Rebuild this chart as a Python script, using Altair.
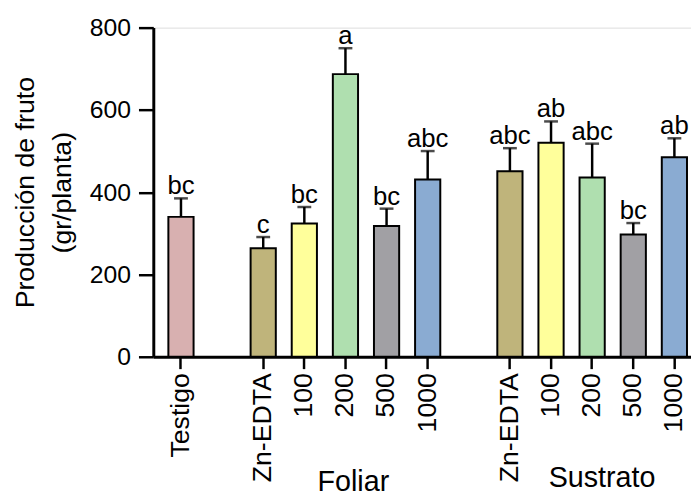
import altair as alt
import pandas as pd

# ---- data ----
groups = ["Testigo", "Foliar", "Foliar", "Foliar", "Foliar", "Foliar",
          "Sustrato", "Sustrato", "Sustrato", "Sustrato", "Sustrato"]
labels = ["Testigo", "Zn-EDTA", "100", "200", "500", "1000",
          "Zn-EDTA", "100", "200", "500", "1000"]
means = [340, 264, 324, 687, 318, 431, 451, 520, 436, 297, 485]
sds = [45, 27, 40, 63, 42, 69, 56, 52, 82, 28, 46]
letters = ["bc", "c", "bc", "a", "bc", "abc", "abc", "ab", "abc", "bc", "ab"]
colors = ["#D8B0B0", "#BFB47B", "#FFFF9B", "#AFDFAF", "#A1A0A4", "#8AABD2",
          "#BFB47B", "#FFFF9B", "#AFDFAF", "#A1A0A4", "#8AABD2"]
group_titles = ["Foliar", "Sustrato"]
y_ticks = [0, 200, 400, 600, 800]

keys = [g + ":" + l for g, l in zip(groups, labels)]
domain = [keys[0], "gap1"] + keys[1:6] + ["gap2"] + keys[6:]

df = pd.DataFrame({
    "key": keys, "label": labels, "mean": means, "sd": sds,
    "letter": letters, "color": colors,
})
df["upper"] = df["mean"] + df["sd"]

FONT = "Liberation Sans"

xscale = alt.Scale(domain=domain, paddingInner=0.387, paddingOuter=0.232, align=0.79)
yscale = alt.Scale(domain=[0, 800], nice=False)

xaxis = alt.Axis(
    title=None, values=keys, labelAngle=270, labelFontSize=27, labelFont=FONT,
    labelColor="black", labelPadding=4, tickSize=12, tickWidth=2.5,
    tickColor="black", domainColor="black", domainWidth=3,
    labelExpr="indexof(datum.label, ':') >= 0 ? substring(datum.label, indexof(datum.label, ':') + 1) : ''",
    grid=False,
)
yaxis = alt.Axis(
    title=["Producción de fruto", "(gr/planta)"], values=y_ticks,
    labelFontSize=25, labelFont=FONT, labelColor="black", labelPadding=8,
    tickSize=15, tickWidth=2.5, tickColor="black", domainColor="black",
    domainWidth=3, grid=False,
    titleFont=FONT, titleFontSize=27, titleFontWeight="normal", titleColor="black",
    titleAngle=270, titleBaseline="alphabetic", titleAlign="center",
    titleX=-121, titleY=166.5, titleLineHeight=37,
)

base = alt.Chart(df)

bars = base.mark_bar(stroke="black", strokeWidth=2).encode(
    x=alt.X("key:N", scale=xscale, axis=xaxis, sort=domain),
    y=alt.Y("mean:Q", scale=yscale, axis=yaxis),
    color=alt.Color("color:N", scale=None),
)

err = base.mark_rule(color="black", strokeWidth=2.5).encode(
    x=alt.X("key:N", sort=domain),
    y="mean:Q",
    y2="upper:Q",
)

caps = base.mark_tick(color="black", size=14, thickness=2.5, orient="horizontal").encode(
    x=alt.X("key:N", sort=domain),
    y="upper:Q",
)

txt = base.mark_text(font=FONT, fontSize=26, baseline="alphabetic", dy=-4, color="black").encode(
    x=alt.X("key:N", sort=domain),
    y="upper:Q",
    text="letter:N",
)

gdf = pd.DataFrame({"title": group_titles, "anchor": ["Foliar:200", "Sustrato:200"]})
g1 = alt.Chart(gdf[gdf.title == "Foliar"]).mark_text(
    font=FONT, fontSize=29, baseline="alphabetic", dx=8, color="black"
).encode(x=alt.X("anchor:N", sort=domain), y=alt.value(469), text="title:N")
g2 = alt.Chart(gdf[gdf.title == "Sustrato"]).mark_text(
    font=FONT, fontSize=29, baseline="alphabetic", dx=10, color="black"
).encode(x=alt.X("anchor:N", sort=domain), y=alt.value(465), text="title:N")

chart = alt.layer(bars, err, caps, txt, g1, g2).properties(
    width=544, height=333,
    autosize=alt.AutoSizeParams(type="none"),
    padding={"left": 147, "top": 17, "right": 0, "bottom": 138},
).configure_view(stroke=None).configure(background="white")

chart.save("out.html", embed_options={"renderer": "svg", "actions": False})
